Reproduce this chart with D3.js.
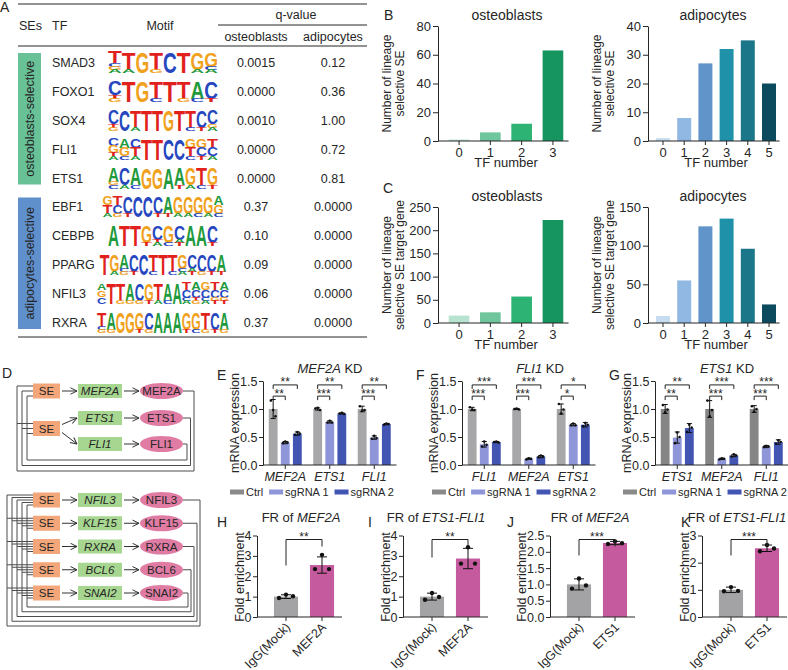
<!DOCTYPE html>
<html>
<head>
<meta charset="utf-8">
<script src="https://cdn.jsdelivr.net/npm/d3@7"></script>
<style>
  body { margin: 0; background: #fff; }
  svg { display: block; }
  text { font-family: "Liberation Sans", Arial, sans-serif; }
</style>
</head>
<body>
<div id="fig"></div>
<script>
// ---------- data ----------
// A: motif table
const tfNames = ["SMAD3", "FOXO1", "SOX4", "FLI1", "ETS1", "EBF1", "CEBPB", "PPARG", "NFIL3", "RXRA"];
const seGroups = ["osteoblasts-selective", "adipocytes-selective"];
const seGroupSize = [5, 5];
const qColumns = ["osteoblasts", "adipocytes"];
const qOsteoblasts = ["0.0015", "0.0000", "0.0010", "0.0000", "0.0000", "0.37", "0.10", "0.09", "0.06", "0.37"];
const qAdipocytes = ["0.12", "0.36", "1.00", "0.72", "0.81", "0.0000", "0.0000", "0.0000", "0.0000", "0.0000"];
// logo columns, letters top to bottom, lowercase = minor letter
const motifCols = [
  ["Tcga", "Ta", "G", "Tg", "C", "T", "Ga", "Gca"],
  ["Ctg", "T", "G", "Tc", "T", "Tg", "Ac", "Ct"],
  ["Ctg", "C", "Ta", "T", "T", "G", "T", "Tc", "Ct", "Cga"],
  ["CGta", "AGc", "CTa", "T", "T", "C", "C", "GTc", "GCt", "TCa"],
  ["Agc", "Ca", "Ac", "G", "G", "A", "At", "Ga", "Tc", "Gt"],
  ["GTa", "TCg", "Ct", "C", "C", "Ct", "At", "Ga", "Ga", "Gc", "Ga", "AGc"],
  ["A", "T", "T", "Gt", "Cta", "Gc", "Cat", "A", "A", "Ct"],
  ["T", "Ga", "Acg", "Ct", "C", "Tc", "T", "Tc", "Gca", "Cat", "Cg", "Ct", "At"],
  ["AGC", "T", "Tg", "Ag", "Cg", "Gt", "Ta", "Ac", "A", "TCca", "ACtg", "GCca", "TCgt", "ACgt"],
  ["Tcg", "Ag", "G", "G", "Gt", "Cg", "A", "A", "A", "Gt", "Gc", "Tg", "Ct", "Ag"]
];

// B / C: TF number counts
const tfNumberOsteo = ["0", "1", "2", "3"];
const tfNumberAdipo = ["0", "1", "2", "3", "4", "5"];
const seCountOsteo = [1, 6, 12, 63];
const seCountAdipo = [1, 8, 27, 32, 35, 20];
const geneCountOsteo = [16, 23, 57, 222];
const geneCountAdipo = [9, 55, 125, 135, 96, 24];

// D: circuits
const circuitTop = ["MEF2A", "ETS1", "FLI1"];
const circuitTopSE = [0, 1, 1];
const circuitBottom = ["NFIL3", "KLF15", "RXRA", "BCL6", "SNAI2"];

// E-G: knockdown qPCR
const kdSeries = ["Ctrl", "sgRNA 1", "sgRNA 2"];
const genesE = ["MEF2A", "ETS1", "FLI1"];
const meanE = [[1.00, 0.40, 0.56], [1.00, 0.77, 0.92], [1.00, 0.49, 0.73]];
const errE = [[0.17, 0.02, 0.03], [0.02, 0.02, 0.01], [0.05, 0.03, 0.01]];
const dotsE = [[[1.15, 0.98, 0.87], [0.39, 0.42, 0.40], [0.54, 0.59, 0.56]],
               [[1.01, 1.02, 0.98], [0.76, 0.79, 0.76], [0.92, 0.93, 0.91]],
               [[1.05, 0.97, 0.98], [0.47, 0.52, 0.48], [0.72, 0.74, 0.73]]];
const sigE = [["**", "**"], ["***", "**"], ["***", "**"]];

const genesF = ["FLI1", "MEF2A", "ETS1"];
const meanF = [[1.00, 0.37, 0.41], [1.00, 0.11, 0.15], [1.00, 0.72, 0.72]];
const errF = [[0.03, 0.05, 0.01], [0.01, 0.01, 0.02], [0.09, 0.02, 0.04]];
const dotsF = [[[1.03, 0.99, 0.98], [0.33, 0.42, 0.36], [0.41, 0.42, 0.40]],
               [[1.00, 1.01, 0.99], [0.10, 0.12, 0.11], [0.14, 0.17, 0.15]],
               [[1.09, 0.92, 0.99], [0.71, 0.74, 0.71], [0.69, 0.75, 0.72]]];
const sigF = [["***", "***"], ["***", "***"], ["*", "*"]];

const genesG = ["ETS1", "MEF2A", "FLI1"];
const meanG = [[1.00, 0.49, 0.66], [1.00, 0.11, 0.17], [1.00, 0.33, 0.41]];
const errG = [[0.08, 0.10, 0.08], [0.15, 0.01, 0.02], [0.06, 0.02, 0.04]];
const dotsG = [[[1.07, 0.94, 0.99], [0.39, 0.58, 0.50], [0.59, 0.72, 0.67]],
               [[1.15, 0.87, 0.98], [0.10, 0.12, 0.11], [0.15, 0.19, 0.17]],
               [[1.05, 0.95, 1.00], [0.32, 0.34, 0.33], [0.38, 0.44, 0.41]]];
const sigG = [["**", "**"], ["***", "***"], ["***", "***"]];

// H-K: ChIP fold enrichment
const frCatsMEF2A = ["IgG(Mock)", "MEF2A"];
const frCatsETS1 = ["IgG(Mock)", "ETS1"];
const meanH = [1.00, 2.55], errH = [0.09, 0.40], dotsH = [[0.93, 1.10, 1.02], [2.35, 3.05, 2.35]];
const meanI = [1.00, 2.87], errI = [0.17, 0.50], dotsI = [[0.85, 1.18, 0.98], [2.62, 3.42, 2.62]];
const meanJ = [1.00, 2.27], errJ = [0.17, 0.05], dotsJ = [[0.87, 1.18, 0.97], [2.24, 2.32, 2.26]];
const meanK = [1.00, 2.53], errK = [0.10, 0.12], dotsK = [[0.95, 1.10, 0.96], [2.42, 2.65, 2.52]];

// ---------- setup ----------
const INK = "#262626";
const svg = d3.select("#fig").append("svg").attr("width", 788).attr("height", 670);
svg.append("rect").attr("width", 788).attr("height", 670).attr("fill", "#fff");

function label(x, y, t, opt = {}) {
  const el = svg.append("text").attr("x", x).attr("y", y)
    .attr("font-size", opt.size || 12)
    .attr("text-anchor", opt.anchor || "start")
    .attr("fill", opt.fill || INK)
    .text(t);
  if (opt.italic) el.attr("font-style", "italic");
  return el;
}
function vLabel(cx, cy, t, size) {
  svg.append("text").attr("transform", `translate(${cx},${cy}) rotate(-90)`)
    .attr("dy", "0.35em").attr("text-anchor", "middle")
    .attr("font-size", size || 12).attr("fill", INK).text(t);
}
function hline(x1, x2, y, w) {
  svg.append("line").attr("x1", x1).attr("x2", x2).attr("y1", y).attr("y2", y)
    .attr("stroke", INK).attr("stroke-width", w || 1);
}
function styleAxis(g, size) {
  g.attr("font-family", null);
  g.selectAll("text").attr("font-size", size).attr("fill", INK);
  g.selectAll("line").attr("stroke", INK);
  g.select(".domain").attr("stroke", INK);
}
function mixedTitle(cx, y, parts, size) {
  const t = svg.append("text").attr("x", cx).attr("y", y).attr("text-anchor", "middle")
    .attr("font-size", size || 13).attr("fill", INK);
  parts.forEach(p => t.append("tspan").attr("font-style", p[1] ? "italic" : "normal").text(p[0]));
}

// panel letters
[["A", 0, 12], ["B", 384, 20], ["C", 383, 193], ["D", 2, 378], ["E", 217, 380], ["F", 416, 380],
 ["G", 609, 380], ["H", 217, 527], ["I", 368, 527], ["J", 507, 527], ["K", 681, 527]]
  .forEach(d => label(d[1], d[2], d[0], { size: 14 }));

// ---------- A: table ----------
const rowY = d3.scaleBand().domain(tfNames).range([48, 337]);
const rc = name => rowY(name) + rowY.bandwidth() / 2;
const colX = d3.scaleOrdinal().domain(qColumns).range([256, 333]);

hline(18, 367, 4); hline(218, 367, 25); hline(18, 367, 46); hline(18, 367, 337);
label(19, 30, "SEs", { size: 12.5 }); label(52, 30, "TF", { size: 12.5 });
label(160, 30, "Motif", { anchor: "middle", size: 12.5 });
label(296, 19, "q-value", { anchor: "middle", size: 12.5 });
qColumns.forEach(c => label(colX(c), 41, c, { anchor: "middle", size: 12.5 }));

const groupFill = ["#69c197", "#5f90cc"];
let startRow = 0;
seGroups.forEach((grp, gi) => {
  const first = tfNames[startRow], last = tfNames[startRow + seGroupSize[gi] - 1];
  const y0 = rowY(first) + 5, y1 = rowY(last) + rowY.bandwidth() - 8;
  svg.append("rect").attr("x", 18).attr("y", y0).attr("width", 23).attr("height", y1 - y0).attr("fill", groupFill[gi]);
  vLabel(29.5, (y0 + y1) / 2, grp, 12.5);
  startRow += seGroupSize[gi];
});

const baseColor = { A: "#1f9a3c", C: "#2647c0", G: "#f0a11d", T: "#e1221c" };
function drawLogo(cols, cx, cy) {
  const n = cols.length;
  const w = n <= 10 ? 110 : 110 + (n - 10) * 5.5;
  const cw = w / n, hTot = 21, smallH = 3.2;
  const g = svg.append("g");
  cols.forEach((tok, i) => {
    const letters = tok.split("");
    const nSmall = letters.filter(c => c !== c.toUpperCase()).length;
    const bigH = (hTot - nSmall * smallH) / (letters.length - nSmall);
    let y = cy - hTot / 2;
    letters.forEach(c => {
      const h = c !== c.toUpperCase() ? smallH : bigH;
      const L = c.toUpperCase();
      g.append("text").attr("x", cx - w / 2 + i * cw).attr("y", y + h)
        .attr("font-size", h / 0.72).attr("font-weight", "bold")
        .attr("textLength", cw).attr("lengthAdjust", "spacingAndGlyphs")
        .attr("fill", baseColor[L]).text(L);
      y += h;
    });
  });
}

tfNames.forEach((tf, i) => {
  const y = rc(tf);
  label(52, y + 4.5, tf, { size: 12.5 });
  drawLogo(motifCols[i], 163, y);
  label(colX("osteoblasts"), y + 4.5, qOsteoblasts[i], { anchor: "middle", size: 12.5 });
  label(colX("adipocytes"), y + 4.5, qAdipocytes[i], { anchor: "middle", size: 12.5 });
});

// ---------- B / C: bar panels ----------
function countPanel(o) {
  const n = o.cats.length;
  const x = d3.scaleBand().domain(o.cats).range([o.start, o.start + o.step * n])
    .paddingInner(0.34).paddingOuter(0.17);
  const y = d3.scaleLinear().domain([0, o.max]).range([o.bottom, o.top]);
  svg.append("g").selectAll("rect").data(o.vals).join("rect")
    .attr("x", (d, i) => x(o.cats[i])).attr("y", d => y(d))
    .attr("width", x.bandwidth()).attr("height", d => o.bottom - y(d))
    .attr("fill", (d, i) => o.colors[i]);
  const ya = svg.append("g").attr("transform", `translate(${o.axisX},0)`)
    .call(d3.axisLeft(y).tickValues(o.ticks).tickSize(5).tickPadding(2).tickSizeOuter(0));
  const xa = svg.append("g").attr("transform", `translate(0,${o.bottom})`)
    .call(d3.axisBottom(x).tickSize(4).tickSizeOuter(0));
  xa.select(".domain").remove();
  hline(o.axisX, o.start + o.step * n, o.bottom);
  styleAxis(ya, 13); styleAxis(xa, 13);
  const mid = o.start + o.step * n / 2;
  label(o.titleX, o.top - 6, o.title, { anchor: "middle", size: 14 });
  label(mid, o.bottom + 26, "TF number", { anchor: "middle", size: 13 });
  o.ylab.forEach((t, i) => vLabel(o.axisX - 51 + 13 * i, (o.top + o.bottom) / 2, t, 12));
}
const greens = ["#b9e3d1", "#6fc59c", "#2db474", "#169561"];
const blues = ["#c6dcf1", "#91b8e2", "#6194c9", "#1f92a9", "#1b768a", "#0c4a5e"];
countPanel({ cats: tfNumberOsteo, vals: seCountOsteo, colors: greens, start: 443.4, step: 31.3, axisX: 438,
  top: 26, bottom: 141, max: 80, ticks: [0, 20, 40, 60, 80], title: "osteoblasts", titleX: 507,
  ylab: ["Number of lineage", "selective SE"] });
countPanel({ cats: tfNumberAdipo, vals: seCountAdipo, colors: blues, start: 652.4, step: 21.2, axisX: 648,
  top: 26, bottom: 141, max: 40, ticks: [0, 10, 20, 30, 40], title: "adipocytes", titleX: 713,
  ylab: ["Number of lineage", "selective SE"] });
countPanel({ cats: tfNumberOsteo, vals: geneCountOsteo, colors: greens, start: 443.4, step: 31.3, axisX: 438,
  top: 207, bottom: 323, max: 250, ticks: [0, 50, 100, 150, 200, 250], title: "osteoblasts", titleX: 507,
  ylab: ["Number of lineage", "selective SE target gene"] });
countPanel({ cats: tfNumberAdipo, vals: geneCountAdipo, colors: blues, start: 652.4, step: 21.2, axisX: 648,
  top: 207, bottom: 323, max: 150, ticks: [0, 50, 100, 150], title: "adipocytes", titleX: 713,
  ylab: ["Number of lineage", "selective SE target gene"] });

// ---------- D: circuits ----------
const seFill = "#f2a679", geneFill = "#a6d690", tfFill = "#e07ca3", wire = "#4d4d4d";
svg.append("defs").append("marker").attr("id", "arr").attr("viewBox", "0 0 8 8")
  .attr("refX", 7.5).attr("refY", 4).attr("markerWidth", 8).attr("markerHeight", 8)
  .attr("markerUnits", "userSpaceOnUse").attr("orient", "auto")
  .append("path").attr("d", "M1,0.8 L7.5,4 L1,7.2").attr("fill", "none").attr("stroke", "#333").attr("stroke-width", 1);
function arrow(x1, y1, x2, y2) {
  svg.append("line").attr("x1", x1).attr("y1", y1).attr("x2", x2).attr("y2", y2)
    .attr("stroke", "#333").attr("stroke-width", 1).attr("marker-end", "url(#arr)");
}
function seBox(cy) {
  svg.append("rect").attr("x", 33).attr("y", cy - 7.5).attr("width", 27).attr("height", 15).attr("fill", seFill);
  label(46.5, cy + 4, "SE", { anchor: "middle", size: 11.5 });
}
function geneBox(cy, name) {
  svg.append("rect").attr("x", 78).attr("y", cy - 7).attr("width", 44).attr("height", 14).attr("fill", geneFill);
  label(100, cy + 4, name, { anchor: "middle", size: 11.5, italic: true });
}
function tfNode(cy, name) {
  svg.append("ellipse").attr("cx", 161.5).attr("cy", cy).attr("rx", 21.5).attr("ry", 8).attr("fill", tfFill);
  label(161.5, cy + 4, name, { anchor: "middle", size: 11.5 });
}
function loops(geneYs, seYs, rightX, bottomY, leftX, off) {
  geneYs.forEach((gy, i) => {
    const stubs = seYs.map(sy => sy + off(i));
    svg.append("path")
      .attr("d", `M183,${gy}H${rightX(i)}V${bottomY(i)}H${leftX(i)}V${stubs[0]}`)
      .attr("fill", "none").attr("stroke", wire).attr("stroke-width", 1);
    stubs.forEach(sy => svg.append("line").attr("x1", leftX(i)).attr("x2", 33).attr("y1", sy).attr("y2", sy)
      .attr("stroke", wire).attr("stroke-width", 1));
  });
}
// top circuit
const topSE = [391, 428.5];
const topGeneY = [391, 418, 444];
loops(topGeneY, topSE, i => 194 - 3.5 * i, i => 471 - 5.5 * i, i => 17 + 5 * i, i => -5 + 5 * i);
topSE.forEach(y => seBox(y));
circuitTop.forEach((g, i) => {
  const gy = topGeneY[i], sy = topSE[circuitTopSE[i]];
  if (gy === sy) arrow(62, sy, 77, gy); else arrow(62, sy + (gy < sy ? -4 : 4), 77, gy);
  geneBox(gy, g);
  arrow(124, gy, 139, gy);
  tfNode(gy, g);
});
// bottom circuit
const botY = d3.scalePoint().domain(circuitBottom).range([500, 593]);
const botYs = circuitBottom.map(g => botY(g));
loops(botYs, botYs, i => 200 - 3 * i, i => 626 - 4.75 * i, i => 7 + 5 * i, i => -5 + 2.5 * i);
circuitBottom.forEach(g => {
  const y = botY(g);
  seBox(y);
  arrow(62, y, 77, y);
  geneBox(y, g);
  arrow(124, y, 139, y);
  tfNode(y, g);
});

// ---------- E-G: knockdown ----------
const sgColors = ["#8e95d8", "#4355b3"];
function kdPanel(o) {
  const y = d3.scaleLinear().domain([0, 1.5]).range([465, 381]);
  const x0 = d3.scaleBand().domain(o.genes).range([o.axisX, o.axisX + 133.5]);
  const x1 = d3.scaleBand().domain(kdSeries).range([0, 33]).paddingInner(0.27);
  const colors = [o.ctrlColor, ...sgColors];
  const center = gi => x0(o.genes[gi]) + x0.bandwidth() / 2;
  const barC = (gi, si) => center(gi) - 16.5 + x1(kdSeries[si]) + x1.bandwidth() / 2;
  const bw = x1.bandwidth();
  const g = svg.append("g");
  o.means.forEach((row, gi) => row.forEach((m, si) => {
    const xc = barC(gi, si), e = o.errs[gi][si];
    g.append("rect").attr("x", xc - bw / 2).attr("y", y(m)).attr("width", bw).attr("height", 465 - y(m)).attr("fill", colors[si]);
    g.append("line").attr("x1", xc).attr("x2", xc).attr("y1", y(m - e)).attr("y2", y(m + e)).attr("stroke", "#111").attr("stroke-width", 1);
    [m - e, m + e].forEach(v => g.append("line").attr("x1", xc - 2.5).attr("x2", xc + 2.5).attr("y1", y(v)).attr("y2", y(v)).attr("stroke", "#111"));
    o.dots[gi][si].forEach((v, k) => g.append("circle").attr("cx", xc + (k - 1) * 2.3).attr("cy", y(v)).attr("r", 1.3).attr("fill", "#111"));
  }));
  const ya = svg.append("g").attr("transform", `translate(${o.axisX},0)`)
    .call(d3.axisLeft(y).tickValues([0, 0.5, 1, 1.5]).tickFormat(d3.format(".1f")).tickSize(4).tickPadding(1.5).tickSizeOuter(0));
  const xa = svg.append("g").attr("transform", "translate(0,465)")
    .call(d3.axisBottom(x0).tickSize(4).tickSizeOuter(0));
  xa.select(".domain").remove();
  hline(o.axisX, o.axisX + 133.5, 465);
  styleAxis(ya, 12.5); styleAxis(xa, 12.5);
  xa.selectAll("text").attr("font-style", "italic");
  // significance brackets: inner = Ctrl vs sgRNA 1, outer = Ctrl vs sgRNA 2
  o.sig.forEach((pair, gi) => {
    [[1, 1.23], [2, 1.43]].forEach(([si, lvl], k) => {
      const xa1 = barC(gi, 0), xa2 = barC(gi, si), yy = y(lvl);
      svg.append("path").attr("d", `M${xa1},${yy + 4}V${yy}H${xa2}V${yy + 4}`).attr("fill", "none").attr("stroke", "#222");
      label((xa1 + xa2) / 2, yy + 1.5, pair[k], { anchor: "middle", size: 12 });
    });
  });
  mixedTitle(o.titleX, 373, [[o.kd, true], [" KD", false]]);
  vLabel(o.axisX - 28.5, 423, "mRNA expression", 12.5);
  let lx = o.legX;
  kdSeries.forEach((s, i) => {
    svg.append("rect").attr("x", lx).attr("y", 489.5).attr("width", 14).attr("height", 5).attr("fill", i === 0 ? "#8a8a8a" : sgColors[i - 1]);
    const t = label(lx + 16, 496, s, { size: 11 });
    lx += 16 + t.node().getComputedTextLength() + 6;
  });
}
kdPanel({ genes: genesE, means: meanE, errs: errE, dots: dotsE, sig: sigE, axisX: 263, ctrlColor: "#a7a7a9", kd: "MEF2A", titleX: 330, legX: 230 });
kdPanel({ genes: genesF, means: meanF, errs: errF, dots: dotsF, sig: sigF, axisX: 462, ctrlColor: "#a7a7a9", kd: "FLI1", titleX: 540, legX: 432 });
kdPanel({ genes: genesG, means: meanG, errs: errG, dots: dotsG, sig: sigG, axisX: 655, ctrlColor: "#858585", kd: "ETS1", titleX: 727, legX: 623 });

// ---------- H-K: fold enrichment ----------
function frPanel(o) {
  const y = d3.scaleLinear().domain([0, o.max]).range([617, 535.5]);
  const x = d3.scaleBand().domain(o.cats).range([o.axisX + 11, o.axisX + 83]).paddingInner(0.33).paddingOuter(0.165);
  const bw = x.bandwidth();
  const fills = ["#a3a3a5", "#c65a9f"];
  const g = svg.append("g");
  o.cats.forEach((c, i) => {
    const xc = x(c) + bw / 2, m = o.means[i], e = o.errs[i];
    g.append("rect").attr("x", x(c)).attr("y", y(m)).attr("width", bw).attr("height", 617 - y(m)).attr("fill", fills[i]);
    g.append("line").attr("x1", xc).attr("x2", xc).attr("y1", y(m - e)).attr("y2", y(m + e)).attr("stroke", "#111");
    [m - e, m + e].forEach(v => g.append("line").attr("x1", xc - 5).attr("x2", xc + 5).attr("y1", y(v)).attr("y2", y(v)).attr("stroke", "#111"));
    o.dots[i].forEach((v, k) => g.append("circle").attr("cx", xc + (k - 1) * 7).attr("cy", y(v)).attr("r", 2.2).attr("fill", "#111"));
  });
  const ya = svg.append("g").attr("transform", `translate(${o.axisX},0)`)
    .call(d3.axisLeft(y).tickValues(o.ticks).tickFormat(d3.format(o.fmt)).tickSize(4).tickPadding(1.5).tickSizeOuter(0));
  const xa = svg.append("g").attr("transform", "translate(0,617)")
    .call(d3.axisBottom(x).tickSize(4).tickSizeOuter(0));
  xa.select(".domain").remove();
  hline(o.axisX, o.axisX + 85, 617);
  styleAxis(ya, 12.5); styleAxis(xa, 12.5);
  xa.selectAll("text").attr("y", 0).attr("dy", 0).attr("text-anchor", "end")
    .attr("transform", "translate(5,11) rotate(-45)");
  // bracket
  const x1 = x(o.cats[0]) + bw / 2, x2 = x(o.cats[1]) + bw / 2, yy = 539.5;
  svg.append("path").attr("d", `M${x1},${yy + o.leg}V${yy}H${x2}V${yy + 7}`).attr("fill", "none").attr("stroke", "#222");
  label((x1 + x2) / 2, yy + 1.5, o.sig, { anchor: "middle", size: 12 });
  mixedTitle(o.titleX, 522, [["FR of ", false], [o.region, true]]);
  vLabel(o.axisX - o.labOff, 577, "Fold enrichment", 12.5);
}
frPanel({ cats: frCatsMEF2A, means: meanH, errs: errH, dots: dotsH, axisX: 257, max: 4, ticks: [0, 1, 2, 3, 4], fmt: "d", sig: "**", leg: 26, titleX: 301, region: "MEF2A", labOff: 17 });
frPanel({ cats: frCatsMEF2A, means: meanI, errs: errI, dots: dotsI, axisX: 403, max: 4, ticks: [0, 1, 2, 3, 4], fmt: "d", sig: "**", leg: 18, titleX: 436, region: "ETS1-FLI1", labOff: 17 });
frPanel({ cats: frCatsETS1, means: meanJ, errs: errJ, dots: dotsJ, axisX: 550, max: 2.5, ticks: [0, 0.5, 1, 1.5, 2, 2.5], fmt: ".1f", sig: "***", leg: 16, titleX: 590, region: "MEF2A", labOff: 28 });
frPanel({ cats: frCatsETS1, means: meanK, errs: errK, dots: dotsK, axisX: 702, max: 3, ticks: [0, 1, 2, 3], fmt: "d", sig: "***", leg: 16, titleX: 737, region: "ETS1-FLI1", labOff: 17 });
</script>
</body>
</html>
